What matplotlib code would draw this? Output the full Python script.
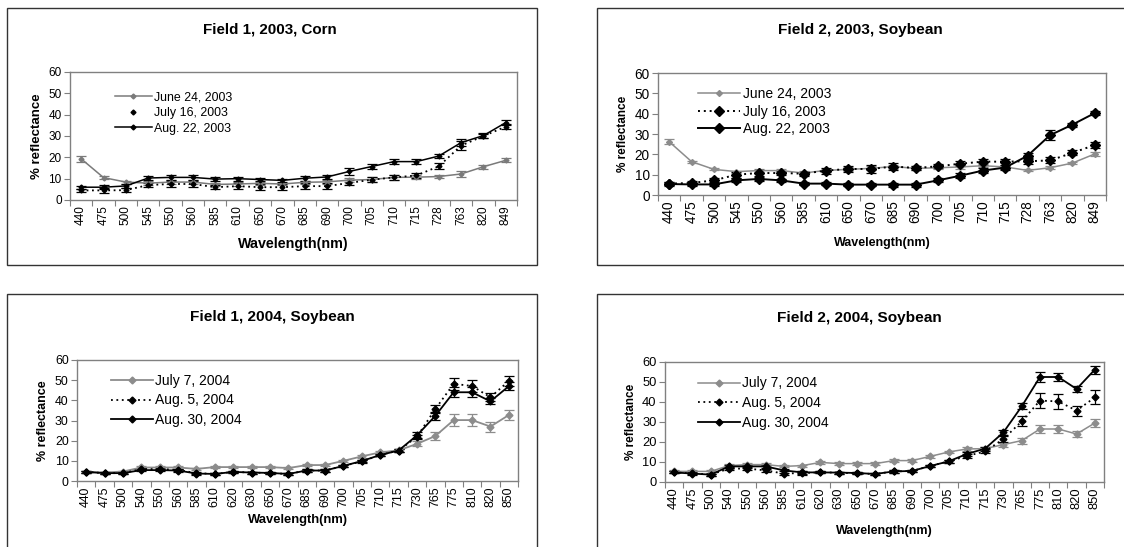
import matplotlib
matplotlib.use("Agg")
import matplotlib.pyplot as plt
from matplotlib.lines import Line2D
from matplotlib.patches import Rectangle

plt.rcParams['font.family'] = ['Liberation Sans', 'DejaVu Sans']

W, H = 1124, 547

# wavelength categories
wl_2003 = ["440", "475", "500", "545", "550", "560", "585", "610", "650", "670",
           "685", "690", "700", "705", "710", "715", "728", "763", "820", "849"]
wl_2004 = ["440", "475", "500", "540", "550", "560", "585", "610", "620", "630",
           "650", "670", "685", "690", "700", "705", "710", "715", "730", "765",
           "775", "810", "820", "850"]

# Field 1, 2003, Corn
f1_03_jun24 = [19.3, 10.5, 8.4, 7.9, 8.4, 8.4, 7.3, 7.5, 7.8, 7.5,
               8.3, 8.5, 9.3, 9.6, 10.6, 10.7, 11.0, 12.2, 15.6, 18.6]
f1_03_jun24_err = [1.5, 0.8, 0.7, 0.8, 0.8, 0.8, 0.8, 0.8, 0.7, 0.7,
                   0.8, 0.8, 1.0, 1.0, 1.0, 1.0, 0.6, 1.5, 1.0, 1.0]
f1_03_jul16 = [4.5, 4.5, 4.6, 7.0, 7.5, 7.5, 6.0, 6.5, 6.0, 6.0,
               6.5, 6.5, 8.0, 9.5, 10.6, 11.5, 15.8, 25.5, 30.0, 34.4]
f1_03_jul16_err = [0.8, 1.2, 0.8, 1.0, 1.2, 1.5, 1.0, 1.5, 1.5, 1.5,
                   1.5, 1.5, 1.2, 1.2, 1.2, 1.2, 1.5, 2.0, 1.0, 1.2]
f1_03_aug22 = [6.0, 6.0, 6.6, 10.3, 10.6, 10.6, 9.8, 10.0, 9.6, 9.2,
               10.2, 10.8, 13.4, 15.7, 18.0, 18.0, 20.6, 26.9, 30.2, 36.3]
f1_03_aug22_err = [0.7, 0.8, 0.8, 1.0, 1.0, 1.0, 0.8, 1.0, 0.8, 0.8,
                   1.2, 1.0, 1.8, 1.3, 1.2, 1.0, 1.0, 1.5, 1.0, 1.2]

# Field 2, 2003, Soybean
f2_03_jun24 = [26.2, 16.4, 12.6, 11.5, 12.0, 12.0, 10.8, 12.1, 12.6, 13.1,
               14.0, 13.1, 13.4, 13.8, 14.4, 13.8, 12.1, 13.4, 15.7, 20.2]
f2_03_jun24_err = [1.2, 0.5, 0.5, 0.5, 0.6, 0.8, 0.8, 0.8, 1.0, 1.0,
                   1.0, 1.0, 0.8, 0.8, 0.8, 0.8, 0.5, 0.8, 0.5, 1.0]
f2_03_jul16 = [5.6, 5.9, 7.2, 10.0, 10.8, 10.8, 10.5, 12.0, 12.8, 12.8,
               14.0, 13.3, 14.1, 15.4, 16.4, 16.4, 16.6, 17.0, 20.7, 24.6]
f2_03_jul16_err = [0.8, 1.0, 1.2, 1.5, 1.5, 1.2, 1.0, 1.5, 1.5, 2.0,
                   1.5, 1.2, 1.0, 1.2, 1.5, 1.5, 1.5, 1.5, 1.2, 1.5]
f2_03_aug22 = [5.4, 5.2, 5.2, 7.2, 7.9, 7.2, 5.6, 5.6, 5.1, 5.1,
               5.1, 5.1, 7.2, 9.5, 12.0, 13.5, 19.3, 29.4, 34.6, 40.3]
f2_03_aug22_err = [0.8, 0.8, 1.0, 1.0, 0.8, 0.8, 0.8, 0.8, 0.8, 0.8,
                   1.0, 1.0, 1.0, 1.2, 1.2, 1.0, 1.5, 2.5, 1.0, 1.0]

# Field 1, 2004, Soybean
f1_04_jul7 = [4.5, 4.2, 4.7, 6.7, 6.7, 6.7, 6.0, 6.9, 6.9, 6.9,
              6.9, 6.4, 7.9, 7.9, 10.0, 12.2, 14.2, 15.2, 18.4, 22.3,
              30.2, 30.2, 27.0, 32.7]
f1_04_jul7_err = [0.5, 0.5, 0.5, 0.6, 0.6, 0.6, 0.5, 0.6, 0.6, 0.6,
                  0.6, 0.5, 0.6, 0.6, 0.6, 0.6, 0.6, 0.6, 1.2, 1.8,
                  3.0, 3.0, 2.5, 2.5]
f1_04_aug5 = [4.5, 3.9, 3.9, 5.9, 5.9, 5.5, 3.9, 3.5, 4.5, 4.2,
              3.9, 3.5, 5.2, 5.2, 7.5, 9.7, 12.9, 15.1, 21.9, 35.7,
              48.2, 47.1, 41.5, 49.6]
f1_04_aug5_err = [0.5, 0.5, 0.5, 0.6, 0.6, 0.6, 0.5, 0.5, 0.5, 0.5,
                  0.5, 0.5, 0.6, 0.6, 0.6, 0.6, 0.6, 0.6, 1.0, 2.0,
                  3.0, 3.0, 2.0, 2.5]
f1_04_aug30 = [4.5, 3.9, 3.9, 5.4, 5.4, 5.2, 3.7, 3.5, 4.5, 4.2,
               4.0, 3.5, 5.2, 5.2, 7.5, 9.9, 12.9, 15.1, 22.6, 32.3,
               44.0, 44.0, 39.5, 47.0]
f1_04_aug30_err = [0.5, 0.5, 0.5, 0.6, 0.6, 0.6, 0.5, 0.5, 0.5, 0.5,
                   0.5, 0.5, 0.6, 0.6, 0.6, 0.6, 0.6, 0.6, 1.5, 2.0,
                   2.5, 2.5, 1.5, 2.0]

# Field 2, 2004, Soybean
f2_04_jul7 = [5.3, 5.3, 5.3, 8.2, 8.7, 8.7, 7.8, 8.2, 9.8, 9.2,
              9.2, 9.2, 10.7, 10.7, 12.8, 15.0, 16.5, 16.7, 18.7, 20.7,
              26.5, 26.5, 24.0, 29.5]
f2_04_jul7_err = [0.6, 0.6, 0.6, 0.6, 0.6, 0.6, 0.5, 0.5, 0.6, 0.6,
                  0.6, 0.6, 0.6, 0.6, 0.6, 0.6, 1.0, 0.8, 1.0, 1.5,
                  2.0, 2.0, 1.5, 2.0]
f2_04_aug5 = [4.8, 4.3, 3.7, 6.7, 6.7, 5.8, 4.2, 4.5, 4.8, 4.7,
              4.3, 4.0, 5.3, 5.5, 8.0, 10.3, 13.0, 15.3, 21.5, 30.3,
              40.7, 40.3, 35.7, 42.3]
f2_04_aug5_err = [0.5, 0.5, 0.5, 0.6, 0.6, 0.6, 0.5, 0.8, 0.5, 0.5,
                  0.5, 0.5, 0.6, 0.6, 0.6, 0.6, 1.0, 1.0, 1.5, 2.5,
                  3.8, 3.8, 2.5, 3.5]
f2_04_aug30 = [4.8, 4.2, 3.7, 7.8, 7.8, 7.8, 5.8, 4.8, 4.8, 4.7,
               4.5, 4.0, 5.3, 5.5, 8.0, 10.3, 14.0, 16.7, 24.8, 37.8,
               52.5, 52.5, 46.5, 56.2]
f2_04_aug30_err = [0.5, 0.5, 0.5, 0.6, 0.6, 0.6, 0.5, 0.8, 0.5, 0.5,
                   0.5, 0.5, 0.6, 0.6, 0.6, 0.6, 1.0, 1.0, 1.2, 1.5,
                   2.5, 2.0, 1.5, 2.0]

GRAY = "#8c8c8c"
DOT = (0, (1, 2))


def px_axes(fig, l, t, r, b):
    return fig.add_axes([l / W, 1 - b / H, (r - l) / W, (b - t) / H])


def frame(fig, l, t, r, b):
    fig.patches.append(Rectangle((l / W, 1 - b / H), (r - l) / W, (b - t) / H,
                                 transform=fig.transFigure, fill=False,
                                 edgecolor="#333333", linewidth=1.0))


def panel(ax, cats, series, legend_xy, tick_fs=8.5, xlab_fs=9, ylab_fs=9,
          leg_fs=10, xlab_pad=6, leg_space=0.25):
    x = range(len(cats))
    handles = []
    for s in series:
        vals, err, color, ls, ms, mk, lw, leg_ls = s[1:]
        ax.errorbar(x, vals, yerr=err, color=color, ls=ls, lw=lw,
                    marker=mk, ms=ms, capsize=3.5, elinewidth=0.9,
                    capthick=0.9, ecolor=color)
        handles.append(Line2D([], [], color=color, ls=leg_ls, lw=lw,
                              marker=mk, ms=ms))
    ax.set_xlim(-0.5, len(cats) - 0.5)
    ax.set_ylim(0, 60)
    ax.set_yticks(range(0, 61, 10))
    # tick marks between categories, labels centred on them
    ax.set_xticks([i - 0.5 for i in range(len(cats) + 1)])
    ax.set_xticklabels([])
    ax.set_xticks(list(x), minor=True)
    ax.set_xticklabels(cats, minor=True, rotation=90, fontsize=tick_fs)
    ax.tick_params(axis="x", which="minor", length=0, pad=4)
    ax.tick_params(axis="x", which="major", length=4, color="#808080")
    ax.tick_params(axis="y", labelsize=tick_fs, length=4, color="#808080",
                   pad=2)
    for sp in ax.spines.values():
        sp.set_color("#808080")
        sp.set_linewidth(1.0)
    ax.set_xlabel("Wavelength(nm)", fontsize=xlab_fs, fontweight="bold",
                  labelpad=xlab_pad)
    ax.set_ylabel("% reflectance", fontsize=ylab_fs, fontweight="bold",
                  labelpad=4)
    ax.legend(handles, [s[0] for s in series], loc="upper left",
              bbox_to_anchor=legend_xy, frameon=False, fontsize=leg_fs,
              handlelength=3.0, handletextpad=0.2, borderpad=0,
              borderaxespad=0, labelspacing=leg_space)


fig = plt.figure(figsize=(W / 100, H / 100), dpi=100)

frame(fig, 7, 8, 537, 265)
frame(fig, 597, 8, 1130, 265)
frame(fig, 7, 294, 537, 560)
frame(fig, 597, 294, 1130, 560)

# Field 1, 2003, Corn
ax1 = px_axes(fig, 70, 72, 517, 200)
panel(ax1, wl_2003, [
    ("June 24, 2003", f1_03_jun24, f1_03_jun24_err, "#7a7a7a", "-", 2.5, "D", 1.1, "-"),
    ("July 16, 2003", f1_03_jul16, f1_03_jul16_err, "black", DOT, 2.5, "D", 1.3, "none"),
    ("Aug. 22, 2003", f1_03_aug22, f1_03_aug22_err, "black", "-", 2.5, "D", 1.1, "-"),
], (0.10, 0.85), tick_fs=8.5, xlab_fs=10.3, ylab_fs=9.5, leg_fs=8.9,
    xlab_pad=8, leg_space=0.3)
fig.text(270 / W, 1 - 30 / H, "Field 1, 2003, Corn", ha="center",
         va="center", fontsize=10.9, fontweight="bold")

# Field 2, 2003, Soybean
ax2 = px_axes(fig, 658, 73, 1106, 195)
panel(ax2, wl_2003, [
    ("June 24, 2003", f2_03_jun24, f2_03_jun24_err, GRAY, "-", 3, "D", 1.1, "-"),
    ("July 16, 2003", f2_03_jul16, f2_03_jul16_err, "black", DOT, 5, "D", 1.4, DOT),
    ("Aug. 22, 2003", f2_03_aug22, f2_03_aug22_err, "black", "-", 5, "D", 1.4, "-"),
], (0.09, 0.885), tick_fs=9.8, xlab_fs=9, ylab_fs=8.5, leg_fs=10,
    xlab_pad=10)
fig.text(860 / W, 1 - 30 / H, "Field 2, 2003, Soybean", ha="center",
         va="center", fontsize=11.1, fontweight="bold")

# Field 1, 2004, Soybean
ax3 = px_axes(fig, 77, 360, 518, 481)
panel(ax3, wl_2004, [
    ("July 7, 2004", f1_04_jul7, f1_04_jul7_err, GRAY, "-", 3.5, "D", 1.3, "-"),
    ("Aug. 5, 2004", f1_04_aug5, f1_04_aug5_err, "black", DOT, 3.5, "D", 1.3, DOT),
    ("Aug. 30, 2004", f1_04_aug30, f1_04_aug30_err, "black", "-", 3.5, "D", 1.3, "-"),
], (0.077, 0.885), tick_fs=8.9, xlab_fs=9.4, ylab_fs=9, leg_fs=10,
    xlab_pad=5, leg_space=0.4)
fig.text(272 / W, 1 - 317 / H, "Field 1, 2004, Soybean", ha="center",
         va="center", fontsize=11.1, fontweight="bold")

# Field 2, 2004, Soybean
ax4 = px_axes(fig, 665, 362, 1104, 482)
panel(ax4, wl_2004, [
    ("July 7, 2004", f2_04_jul7, f2_04_jul7_err, GRAY, "-", 3.5, "D", 1.1, "-"),
    ("Aug. 5, 2004", f2_04_aug5, f2_04_aug5_err, "black", DOT, 3.5, "D", 1.3, DOT),
    ("Aug. 30, 2004", f2_04_aug30, f2_04_aug30_err, "black", "-", 3.5, "D", 1.3, "-"),
], (0.075, 0.88), tick_fs=9.3, xlab_fs=9, ylab_fs=8.5, leg_fs=10,
    xlab_pad=11, leg_space=0.4)
fig.text(859 / W, 1 - 318 / H, "Field 2, 2004, Soybean", ha="center",
         va="center", fontsize=11.1, fontweight="bold")

fig.savefig("out.png", dpi=100)
